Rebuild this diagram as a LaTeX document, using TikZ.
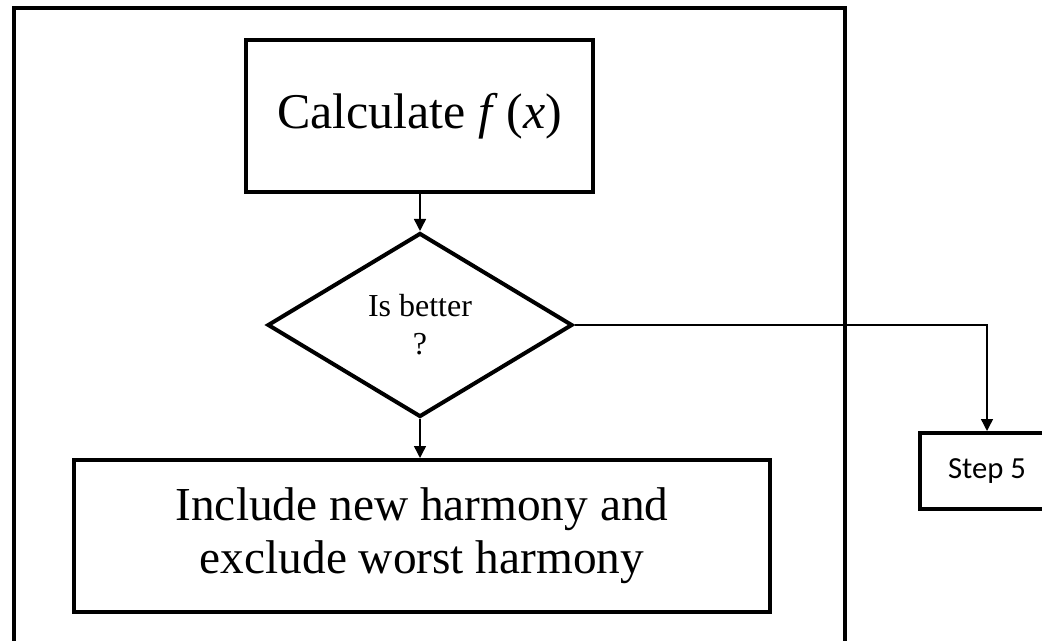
\documentclass[tikz,border=0pt]{standalone}
\usepackage{fontspec}
\setmainfont{Liberation Serif}
\newfontfamily\stepfont{Carlito}
\usetikzlibrary{shapes.geometric,arrows.meta}
\tikzset{
  px/.style={x=0.75pt,y=-0.75pt},
  frame/.style={draw,line width=3.4pt},
  procbox/.style={draw,line width=3pt,rectangle,inner sep=0pt,align=center},
  decision/.style={draw,line width=3pt,diamond,inner sep=0pt,align=center},
  conn/.style={line width=1.1pt,-{Triangle[length=9pt,width=9pt]}},
}
\begin{document}
\begin{tikzpicture}[px]
\useasboundingbox (0,0) rectangle (1042,641);
\clip (0,0) rectangle (1042,641);
\draw[frame] (14,8) rectangle (845,700);
\node[procbox,minimum width=347*0.75pt,minimum height=152*0.75pt,font=\fontsize{37.5}{42}\selectfont] (calc) at (419.5,116) {Calculate \textit{f}\,(\textit{x})};
\node[decision,minimum width=305*0.75pt,minimum height=184*0.75pt,aspect=1.66,font=\fontsize{24}{28.5}\selectfont] (dec) at (420,325) {Is better\\?};
\node[procbox,minimum width=696*0.75pt,minimum height=152*0.75pt,font=\fontsize{35.5}{40}\selectfont] (incl) at (422,536) {Include new harmony and\\exclude worst harmony};
\node[procbox,minimum width=134*0.75pt,minimum height=76*0.75pt,font=\stepfont\fontsize{23}{26}\selectfont] (step) at (987,471) {Step 5};
\draw[conn] (calc.south -| dec.north) -- (dec.north);
\draw[conn] (dec.south) -- (dec.south |- incl.north);
\draw[conn] (dec.east) -| (step.north);
\end{tikzpicture}
\end{document}
